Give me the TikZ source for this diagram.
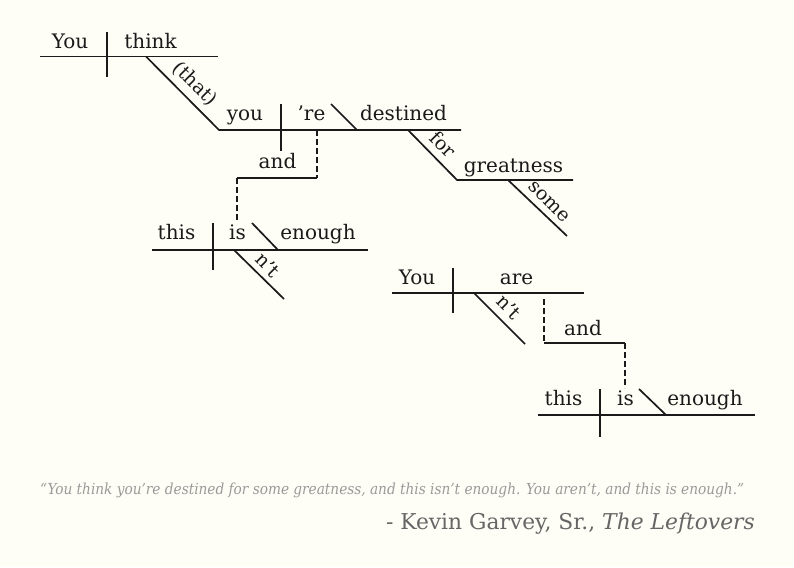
\documentclass[tikz,border=0pt]{standalone}
\usepackage{fontspec}
\setmainfont{DejaVu Serif}
\newfontfamily\condfont{DejaVu Serif Condensed}
\definecolor{bgcol}{HTML}{FEFEF6}
\definecolor{inkcol}{HTML}{1A1A1A}
\definecolor{quotecol}{HTML}{9A9A9A}
\definecolor{attrcol}{HTML}{666666}
\begin{document}
\begin{tikzpicture}[x=1pt,y=-1pt,
  ln/.style={line width=1.7pt, draw=inkcol},
  dln/.style={ln, dash pattern=on 5.5pt off 3.5pt},
  wd/.style={anchor=base, inner sep=0pt, text=inkcol, font=\fontsize{20}{22}\selectfont},
  rwd/.style={anchor=center, inner sep=0pt, text=inkcol, rotate=-45, font=\fontsize{19}{22}\selectfont}]
\fill[bgcol] (0,0) rectangle (794,567);
\useasboundingbox (0,0) rectangle (794,567);
% ---------- clause 1 ----------
\coordinate (a1) at (40,56.5); \coordinate (a2) at (218,56.5);
\coordinate (v1t) at (107,32); \coordinate (v1b) at (107,77);
\coordinate (d1s) at (146,56.5); \coordinate (b1) at (219,130);
\coordinate (b2) at (461,130);
\coordinate (v2t) at (281,104); \coordinate (v2b) at (281,151);
\coordinate (s1t) at (331,104); \coordinate (s1b) at (357,130);
\coordinate (f1) at (408,130); \coordinate (g1) at (457,180); \coordinate (g2) at (573,180);
\coordinate (m1) at (508,180); \coordinate (m2) at (567,236);
\coordinate (k1) at (317,130); \coordinate (k2) at (317,178); \coordinate (k3) at (237,178); \coordinate (k4) at (237,222);
\draw[ln] (a1) -- (a2);
\draw[ln] (v1t) -- (v1b);
\draw[ln] (d1s) -- (b1) -- (b2);
\draw[ln] (v2t) -- (v2b);
\draw[ln] (s1t) -- (s1b);
\draw[ln] (f1) -- (g1) -- (g2);
\draw[ln] (m1) -- (m2);
\draw[dln] (k1) -- (k2);
\draw[ln] (k2) -- (k3);
\draw[dln] (k3) -- (k4);
\node[wd] (You1) at (70,49) {You};
\node[wd] (think) at (150.5,49) {think};
\node[rwd] (that) at (195,84) {(that)};
\node[wd] (you2) at (245,121) {you};
\node[wd] (re) at (311.5,121) {’re};
\node[wd] (destined) at (403.5,121) {destined};
\node[wd] (and1) at (277.5,168) {and};
\node[rwd] (for) at (443,144) {for};
\node[wd] (greatness) at (513.5,172) {greatness};
\node[rwd] (some) at (549,202) {some};
% ---------- clause 2 ----------
\coordinate (c1) at (152,250); \coordinate (c2) at (368,250);
\coordinate (v3t) at (213,223); \coordinate (v3b) at (213,270);
\coordinate (s2t) at (252,223); \coordinate (s2b) at (278,250);
\coordinate (n1a) at (234,250); \coordinate (n1b) at (284,299);
\draw[ln] (c1) -- (c2);
\draw[ln] (v3t) -- (v3b);
\draw[ln] (s2t) -- (s2b);
\draw[ln] (n1a) -- (n1b);
\node[wd] (this1) at (176.5,239) {this};
\node[wd] (is1) at (237.5,239) {is};
\node[wd] (enough1) at (318,239) {enough};
\node[rwd] (nt1) at (268,265) {n’t};
% ---------- clause 3 ----------
\coordinate (e1) at (392,293); \coordinate (e2) at (584,293);
\coordinate (v4t) at (453,268); \coordinate (v4b) at (453,313);
\coordinate (n2a) at (474,293); \coordinate (n2b) at (525,344);
\coordinate (h1) at (544,299); \coordinate (h2) at (544,343); \coordinate (h3) at (625,343); \coordinate (h4) at (625,388);
\draw[ln] (e1) -- (e2);
\draw[ln] (v4t) -- (v4b);
\draw[ln] (n2a) -- (n2b);
\draw[dln] (h1) -- (h2);
\draw[ln] (h2) -- (h3);
\draw[dln] (h3) -- (h4);
\node[wd] (You3) at (417,284) {You};
\node[wd] (are) at (516.5,284) {are};
\node[rwd] (nt2) at (509,307) {n’t};
\node[wd] (and2) at (583,335) {and};
% ---------- clause 4 ----------
\coordinate (j1) at (538,415); \coordinate (j2) at (755,415);
\coordinate (v5t) at (600,389); \coordinate (v5b) at (600,437);
\coordinate (s3t) at (639,389); \coordinate (s3b) at (666,415);
\draw[ln] (j1) -- (j2);
\draw[ln] (v5t) -- (v5b);
\draw[ln] (s3t) -- (s3b);
\node[wd] (this2) at (563.5,405) {this};
\node[wd] (is2) at (625.5,405) {is};
\node[wd] (enough2) at (705,405) {enough};
% ---------- quote ----------
\node[anchor=base west, inner sep=0pt, text=quotecol, font=\condfont\itshape\fontsize{15.2}{17}\selectfont] (quote) at (40,494)
  {“You think you’re destined for some greatness, and this isn’t enough. You aren’t, and this is enough.”};
\node[anchor=base east, inner sep=0pt, text=attrcol, font=\fontsize{21.8}{25}\selectfont] (attr) at (755,529)
  {- Kevin Garvey, Sr., \textit{The Leftovers}};
\end{tikzpicture}
\end{document}
